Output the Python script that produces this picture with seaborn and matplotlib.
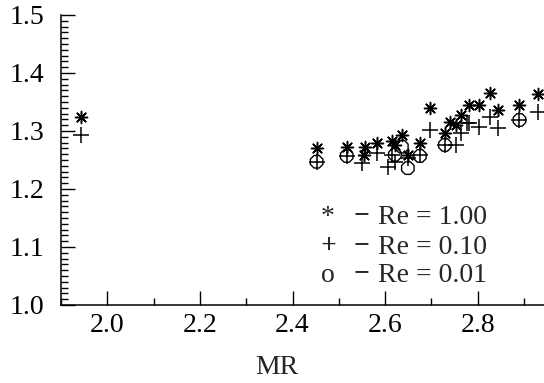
import matplotlib
matplotlib.use("Agg")
import matplotlib.pyplot as plt
import seaborn as sns
import pandas as pd
from matplotlib.ticker import MultipleLocator, FormatStrFormatter

# Re = 1.00 (asterisks)
mr_re100 = [1.943, 2.452, 2.517, 2.554, 2.556, 2.582, 2.614, 2.621, 2.636, 2.649,
            2.675, 2.696, 2.729, 2.739, 2.752, 2.763, 2.782, 2.802, 2.826, 2.843,
            2.890, 2.929]
val_re100 = [1.324, 1.271, 1.273, 1.259, 1.273, 1.279, 1.282, 1.276, 1.293, 1.259,
             1.279, 1.339, 1.296, 1.316, 1.310, 1.328, 1.345, 1.345, 1.366, 1.336,
             1.345, 1.364]

# Re = 0.10 (plus)
mr_re010 = [1.943, 2.452, 2.517, 2.550, 2.582, 2.606, 2.614, 2.621, 2.649, 2.675,
            2.696, 2.729, 2.752, 2.763, 2.776, 2.782, 2.802, 2.826, 2.843, 2.890,
            2.929]
val_re010 = [1.293, 1.247, 1.257, 1.245, 1.262, 1.238, 1.259, 1.247, 1.253, 1.259,
             1.302, 1.276, 1.276, 1.296, 1.314, 1.313, 1.307, 1.325, 1.305, 1.319,
             1.332]

# Re = 0.01 (circles)
mr_re001 = [2.452, 2.517, 2.621, 2.636, 2.649, 2.675, 2.729, 2.890]
val_re001 = [1.247, 1.257, 1.259, 1.273, 1.236, 1.257, 1.276, 1.319]

legend_lines = ["Re = 1.00", "Re = 0.10", "Re = 0.01"]
legend_syms = ["*", "+", "o"]

sns.set_style("white")
plt.rcParams['font.family'] = ['Liberation Serif', 'DejaVu Serif']

W, H = 544, 383
fig = plt.figure(figsize=(W / 100, H / 100), dpi=100)
ax = fig.add_axes([61 / W, (H - 305) / H, (W - 61) / W, (305 - 15) / H])

df100 = pd.DataFrame({"MR": mr_re100, "v": val_re100})
df010 = pd.DataFrame({"MR": mr_re010, "v": val_re010})
df001 = pd.DataFrame({"MR": mr_re001, "v": val_re001})

sns.scatterplot(data=df001, x="MR", y="v", ax=ax, marker="8", s=95,
                facecolors="none", edgecolor="black", linewidth=1.0, zorder=3)
sns.scatterplot(data=df010, x="MR", y="v", ax=ax, marker="+", s=120,
                color="black", linewidth=1.1, zorder=4)
sns.scatterplot(data=df100, x="MR", y="v", ax=ax, marker=(8, 2, 0), s=75,
                color="black", linewidth=1.1, zorder=5)

ax.set_xlim(1.9, 2.943)
ax.set_ylim(1.0, 1.5)
ax.set_facecolor("white")
for s in ["top", "right"]:
    ax.spines[s].set_visible(False)
for s in ["left", "bottom"]:
    ax.spines[s].set_color("black")
    ax.spines[s].set_linewidth(1.1)

ax.xaxis.set_major_locator(MultipleLocator(0.2))
ax.xaxis.set_minor_locator(MultipleLocator(0.1))
ax.yaxis.set_major_locator(MultipleLocator(0.1))
ax.yaxis.set_minor_locator(MultipleLocator(0.01))
ax.xaxis.set_major_formatter(FormatStrFormatter("%.1f"))
ax.yaxis.set_major_formatter(FormatStrFormatter("%.1f"))

ax.tick_params(axis="both", which="major", direction="in", length=10, width=1.0,
               labelsize=20, color="black", labelcolor="black")
ax.tick_params(axis="both", which="minor", direction="in", length=5, width=1.0,
               color="black")
ax.tick_params(axis="y", which="major", pad=12)
ax.tick_params(axis="x", which="major", pad=6)
ax.tick_params(bottom=True, left=True, which="both")

ax.set_ylabel("")
ax.set_xlabel("MR", fontsize=20)
ax.xaxis.set_label_coords((277 - 61) / (W - 61), -(368 - 305) / (305 - 15), transform=ax.transAxes)
ax.xaxis.label.set_va("center")

rows_y = [217, 247, 275]
for sym, txt, yy in zip(legend_syms, legend_lines, rows_y):
    fw = "bold" if sym == "+" else "normal"
    fig.text(328 / W, 1 - yy / H, sym, ha="center", va="center", fontsize=20, fontweight=fw)
    fig.text(361 / W, 1 - yy / H + 0.004, "\u2212", ha="center", va="center", fontsize=20,
             fontweight="bold")
    fig.text(378 / W, 1 - yy / H, txt, ha="left", va="center", fontsize=20)

fig.savefig("out.png", dpi=100, facecolor="white")
